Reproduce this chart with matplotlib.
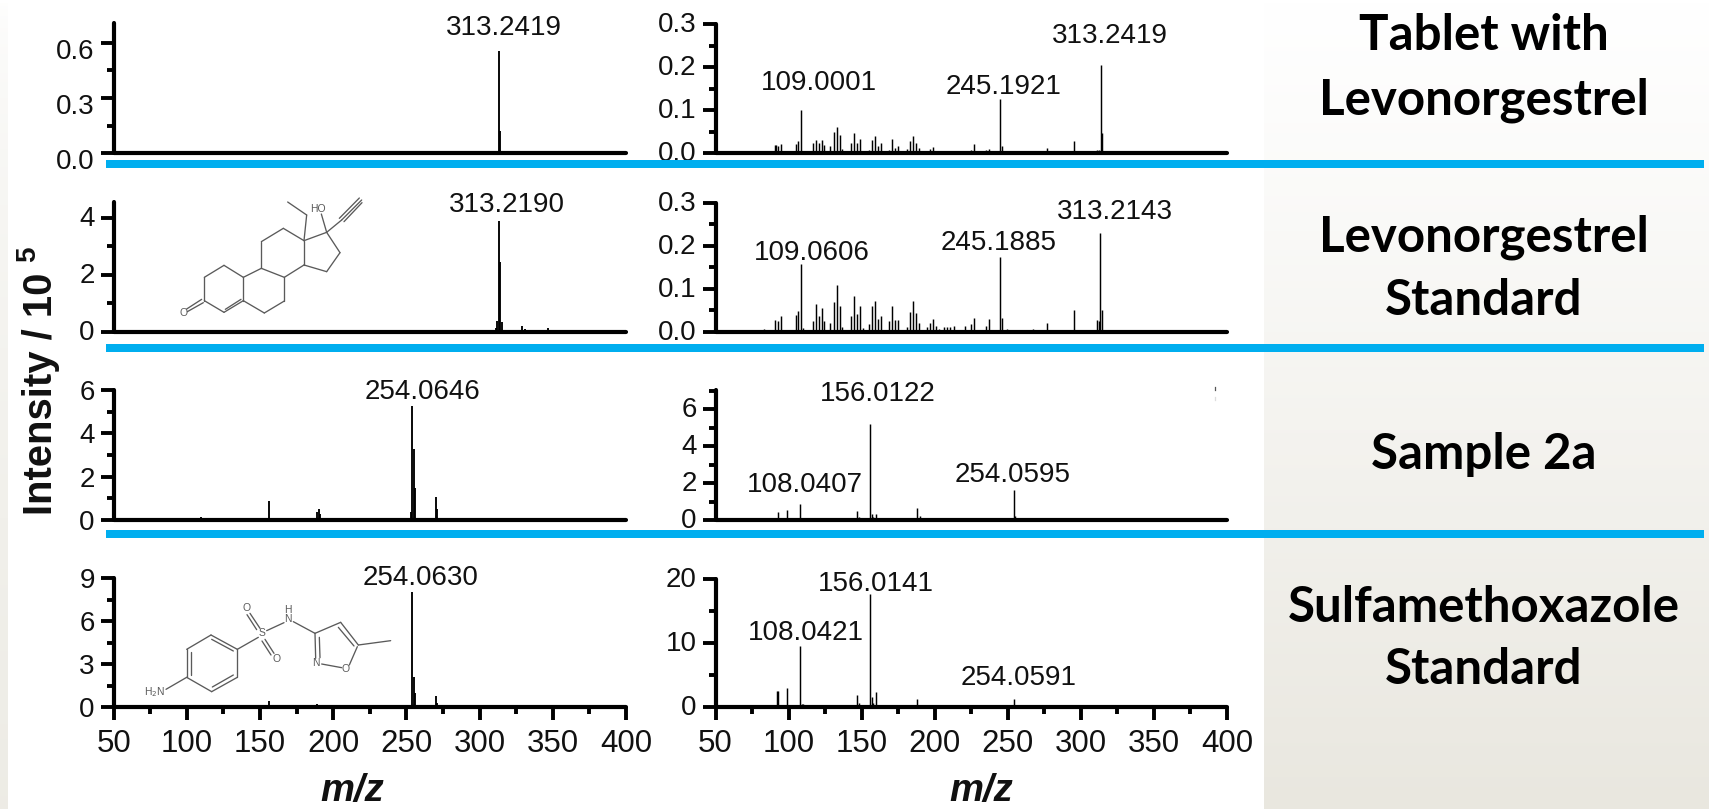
import numpy as np
import matplotlib
matplotlib.use("Agg")
import matplotlib.pyplot as plt
from matplotlib.patches import Rectangle
from matplotlib.ticker import FixedLocator
from matplotlib.transforms import ScaledTranslation

plt.rcParams['font.family'] = ['Liberation Sans', 'DejaVu Sans']

W, H = 1709, 809

# ---------- data: (m/z, intensity) ----------
r1_left_mz = [313, 314, 315]
r1_left_i = [0.555, 0.12, 0.012]
r2_left_mz = [295, 311, 312, 313, 314, 315, 329, 331, 345, 347, 363]
r2_left_i = [0.05, 0.15, 0.4, 3.9, 2.45, 0.35, 0.22, 0.1, 0.06, 0.13, 0.04]
r3_left_mz = [100, 110, 147, 156, 163, 189, 190, 191, 253, 254, 255, 256, 257, 265, 270, 271, 280, 303, 310, 367, 391]
r3_left_i = [0.08, 0.12, 0.05, 0.9, 0.1, 0.35, 0.5, 0.3, 0.35, 5.25, 3.3, 1.5, 0.08, 0.05, 1.05, 0.5, 0.05, 0.05, 0.05, 0.05, 0.05]
r4_left_mz = [156, 189, 190, 254, 255, 256, 270, 271]
r4_left_i = [0.45, 0.2, 0.1, 8.05, 2.1, 1.0, 0.75, 0.25]

r1_right_mz = [90.5, 91.5, 92.7, 94.7, 96.6, 105, 106.7, 108.7, 110, 117, 119, 120.7, 122.6, 124.5, 126.8, 128.5, 131, 133, 135,
               136.6, 141, 143, 144.7, 147, 149, 151, 154.7, 157, 159, 161, 163, 169, 171, 173, 175, 181, 183, 185, 187, 189,
               195, 197, 199, 201, 206.5, 208.4, 210.7, 213, 221, 224.6, 226.8, 235, 237, 242.7, 245, 246, 249.4, 267, 277,
               295, 311, 312.6, 313.7, 314.2, 315]
r1_right_i = [0.02, 0.02, 0.018, 0.022, 0.005, 0.022, 0.028, 0.1, 0.006, 0.025, 0.03, 0.025, 0.032, 0.02, 0.006, 0.018, 0.05, 0.062, 0.042,
              0.01, 0.005, 0.025, 0.047, 0.025, 0.033, 0.005, 0.008, 0.03, 0.04, 0.017, 0.025, 0.008, 0.033, 0.012, 0.018, 0.01, 0.028, 0.04, 0.024, 0.012,
              0.005, 0.01, 0.014, 0.006, 0.004, 0.004, 0.004, 0.005, 0.006, 0.008, 0.022, 0.008, 0.011, 0.004, 0.125, 0.016, 0.004, 0.003, 0.012,
              0.028, 0.008, 0.008, 0.205, 0.048, 0.004]
r2_right_mz = [83, 91, 92.7, 94.7, 105, 106.7, 108.7, 110, 117, 119, 120.7, 122.6, 124.5, 128.5, 131, 133, 135, 136.6, 143, 144.7,
               147, 149, 151, 154.7, 157, 159, 161, 163, 169, 171, 173, 175, 181, 183, 185, 187, 189, 195, 197, 199, 201, 203,
               206.5, 208.4, 210.7, 213, 221, 224.6, 226.8, 235, 237, 242.7, 245, 246, 249.4, 253, 267, 277, 295, 311, 312.6, 313.4, 314.2]
r2_right_i = [0.006, 0.028, 0.025, 0.037, 0.04, 0.048, 0.158, 0.01, 0.025, 0.066, 0.036, 0.056, 0.025, 0.022, 0.07, 0.108, 0.06, 0.012, 0.036, 0.083,
              0.042, 0.06, 0.01, 0.018, 0.06, 0.073, 0.03, 0.036, 0.025, 0.06, 0.027, 0.028, 0.012, 0.046, 0.073, 0.045, 0.022, 0.012, 0.022, 0.03, 0.015, 0.008,
              0.012, 0.012, 0.012, 0.013, 0.015, 0.018, 0.033, 0.015, 0.03, 0.005, 0.175, 0.033, 0.006, 0.005, 0.007, 0.02, 0.05, 0.027, 0.025, 0.23, 0.05]
r3_right_mz = [92, 92.8, 98.9, 107.8, 147, 148, 155.6, 157, 158, 160, 188, 190, 194, 254, 255]
r3_right_i = [0.12, 0.45, 0.55, 0.85, 0.5, 0.15, 5.2, 0.35, 0.15, 0.3, 0.65, 0.2, 0.08, 1.6, 0.2]
r4_right_mz = [92, 93, 99, 108, 109, 110, 147, 148, 155.6, 157, 158, 160, 188, 190, 254]
r4_right_i = [2.5, 2.5, 2.9, 9.6, 0.5, 0.5, 1.8, 0.6, 17.6, 1.5, 0.6, 2.4, 1.2, 0.2, 1.2]

spectra = [[(r1_left_mz, r1_left_i), (r1_right_mz, r1_right_i)],
           [(r2_left_mz, r2_left_i), (r2_right_mz, r2_right_i)],
           [(r3_left_mz, r3_left_i), (r3_right_mz, r3_right_i)],
           [(r4_left_mz, r4_left_i), (r4_right_mz, r4_right_i)]]

# y axis: upper limit, major ticks, tick text, minor ticks
y_top = [[0.705, 0.30], [4.56, 0.30], [6.0, 7.03], [9.0, 20.0]]
y_major = [[[0, 0.3, 0.6], [0, 0.1, 0.2, 0.3]], [[0, 2, 4], [0, 0.1, 0.2, 0.3]],
           [[0, 2, 4, 6], [0, 2, 4, 6]], [[0, 3, 6, 9], [0, 10, 20]]]
y_text = [[['0.0', '0.3', '0.6'], ['0.0', '0.1', '0.2', '0.3']], [['0', '2', '4'], ['0.0', '0.1', '0.2', '0.3']],
          [['0', '2', '4', '6'], ['0', '2', '4', '6']], [['0', '3', '6', '9'], ['0', '10', '20']]]
y_minor = [[[0.15, 0.45], [0.05, 0.15, 0.25]], [[1, 3], [0.05, 0.15, 0.25]],
           [[1, 3, 5], [1, 3, 5, 7]], [[1.5, 4.5, 7.5], [5, 15]]]
x_major = [50, 100, 150, 200, 250, 300, 350, 400]
x_minor = [75, 125, 175, 225, 275, 325, 375]

peak_labels = ['313.2419', '313.2190', '254.0646', '254.0630',
               '109.0001', '245.1921', '313.2419', '109.0606', '245.1885', '313.2143',
               '156.0122', '108.0407', '254.0595', '156.0141', '108.0421', '254.0591']
peak_label_xy = [(504, 28), (507, 205), (422, 392), (421, 578),
                 (819, 83), (1004, 87), (1110, 36), (812, 253), (999, 243), (1115, 212),
                 (878, 394), (805, 485), (1013, 475), (876, 584), (806, 633), (1019, 678)]
titles = ['Tablet with', 'Levonorgestrel', 'Levonorgestrel', 'Standard', 'Sample 2a', 'Sulfamethoxazole', 'Standard']
title_y = [35, 100, 237, 300, 454, 608, 670]

# ---------- layout (pixels) ----------
col_x = [(113.6, 626.0), (715.5, 1227.0)]
row_y = [[(23.3, 153.3), (24.0, 153.3)], [(202.0, 332.0), (202.7, 332.0)],
         [(390.0, 520.0), (390.0, 520.0)], [(578.0, 707.0), (579.0, 707.0)]]
blue_y = [(160, 168), (344, 352), (530, 538)]
INK = '#111111'

fig = plt.figure(figsize=(W / 100, H / 100), dpi=100, facecolor='white')

# background
bg = fig.add_axes([0, 0, 1, 1], zorder=-1)
bg.set_xlim(0, W); bg.set_ylim(H, 0); bg.axis('off')
shade = np.linspace(0, 1, 256)[:, None, None] ** 1.1
top_c = np.array([1.0, 1.0, 1.0])
bot_c = np.array([0.914, 0.906, 0.875])
grad = top_c + shade * (bot_c - top_c)
bg.imshow(grad, extent=(1264, W, H, 0), aspect='auto', zorder=1)
bg.imshow(top_c + (shade ** 0.5) * (np.array([0.93, 0.925, 0.90]) - top_c), extent=(0, 8, H, 0), aspect='auto', zorder=1)
bg.set_xlim(0, W); bg.set_ylim(H, 0)

for r in range(4):
    for c in range(2):
        x0, x1 = col_x[c]
        yt, yb = row_y[r][c]
        ax = fig.add_axes([x0 / W, 1 - yb / H, (x1 - x0) / W, (yb - yt) / H])
        ax.patch.set_alpha(0)
        mz, val = spectra[r][c]
        ax.vlines(mz, 0, val, colors='black', lw=1.35 if c == 0 else 1.05)
        ax.set_xlim(50, 400)
        ax.set_ylim(0, y_top[r][c])
        for s in ('top', 'right'):
            ax.spines[s].set_visible(False)
        for s in ('left', 'bottom'):
            ax.spines[s].set_linewidth(3.0)
            ax.spines[s].set_color('black')
            ax.spines[s].set_capstyle('round')
        ax.set_yticks(y_major[r][c])
        ax.set_yticklabels(y_text[r][c])
        ax.yaxis.set_minor_locator(FixedLocator(y_minor[r][c]))
        ax.tick_params(axis='y', which='major', length=9.5, width=2.8, labelsize=20, pad=4, colors='black', labelcolor=INK)
        ax.tick_params(axis='y', which='minor', length=5, width=2.8)
        if r == 3:
            ax.set_xticks(x_major)
            ax.xaxis.set_minor_locator(FixedLocator(x_minor))
            ax.tick_params(axis='x', which='major', length=9.5, width=2.8, labelsize=22.5, pad=6, labelcolor=INK)
            ax.tick_params(axis='x', which='minor', length=5, width=2.8)
        else:
            ax.tick_params(axis='x', which='both', length=0, labelbottom=False)
        if r == 0 and c == 0:
            off = ScaledTranslation(0, -6 / 100, fig.dpi_scale_trans)
        elif c == 1 or r == 1:
            off = ScaledTranslation(0, 2 / 100, fig.dpi_scale_trans)
        else:
            off = ScaledTranslation(0, 0, fig.dpi_scale_trans)
        for lab in ax.get_yticklabels():
            lab.set_transform(lab.get_transform() + off)

# overlay in pixel coordinates
ov = fig.add_axes([0, 0, 1, 1], zorder=10)
ov.set_xlim(0, W); ov.set_ylim(H, 0); ov.axis('off'); ov.patch.set_alpha(0)

for y0, y1 in blue_y:
    ov.add_patch(Rectangle((106, y0), 1704 - 106, y1 - y0, fc='#00AEEF', ec='none'))

for s, (x, y) in zip(peak_labels, peak_label_xy):
    ov.text(x, y, s, ha='center', va='center', fontsize=20, color=INK)

for s, y in zip(titles, title_y):
    ov.text(1484, y, s, ha='center', va='center', fontsize=35.5, fontweight='bold',
            family=['Lato', 'DejaVu Sans'], color='black')

ov.text(41, 515, 'Intensity / 10', rotation=90, ha='left', va='center', rotation_mode='anchor',
        fontsize=28.8, fontweight='bold', color=INK)
ov.text(28, 254, '5', rotation=90, ha='center', va='center', fontsize=20, fontweight='bold', color=INK)
ov.text(352, 791, 'm/z', ha='center', va='center', fontsize=27.5, fontweight='bold', style='italic', color=INK)
ov.text(981, 791, 'm/z', ha='center', va='center', fontsize=27.5, fontweight='bold', style='italic', color=INK)
ov.plot([1214.5, 1214.5], [387, 390], color='#555555', lw=0.9)
ov.plot([1214.5, 1214.5], [397, 400], color='#dddddd', lw=0.9)

# structures (crop coordinates at 3x)
def draw(bonds, ox, oy):
    for (xa, ya), (xb, yb) in bonds:
        ov.plot([ox + xa / 3, ox + xb / 3], [oy + ya / 3, oy + yb / 3], color='#5a5a5a', lw=0.95, solid_capstyle='round')

A = dict(c3=(133, 332), c2=(133, 262), c1=(192, 226), c10=(250, 262), c5=(250, 332), c4=(192, 367), c6=(313, 369),
         c7=(373, 333), c8=(373, 262), c9=(304, 235), c11=(304, 155), c12=(370, 115), c13=(432, 152), c14=(432, 225),
         c15=(500, 245), c16=(540, 188), c17=(500, 127), e1=(440, 75), e2=(383, 36), oh=(484, 72), y1=(545, 90), y2=(605, 30))
names = ['c3-c2', 'c2-c1', 'c1-c10', 'c10-c5', 'c5-c4', 'c4-c3', 'c5-c6', 'c6-c7', 'c7-c8', 'c8-c9', 'c9-c10', 'c9-c11',
         'c11-c12', 'c12-c13', 'c13-c14', 'c14-c8', 'c14-c15', 'c15-c16', 'c16-c17', 'c17-c13', 'c13-e1', 'e1-e2', 'c17-oh', 'c17-y1']
levo = [(A[n.split('-')[0]], A[n.split('-')[1]]) for n in names]
levo += [((545, 90), (605, 30)), ((538, 85), (598, 24)), ((552, 95), (606, 38)),
         ((130, 338), (82, 365)), ((125, 328), (80, 357)), ((196, 358), (243, 328))]
draw(levo, 160, 190)
ov.text(160 + 70 / 3, 190 + 368 / 3, 'O', fontsize=7.5, color='#5a5a5a', ha='center', va='center')
ov.text(160 + 475 / 3, 190 + 57 / 3, 'HO', fontsize=7.5, color='#5a5a5a', ha='center', va='center')

sulfa = [((108, 298), (170, 262)), ((170, 262), (170, 178)), ((170, 178), (243, 135)), ((243, 135), (322, 178)),
         ((322, 178), (322, 262)), ((322, 262), (245, 305)), ((245, 305), (170, 262)),
         ((182, 255), (182, 185)), ((245, 148), (310, 183)), ((310, 255), (247, 291)),
         ((322, 178), (385, 142)), ((390, 115), (360, 70)), ((380, 119), (351, 74)),
         ((405, 148), (432, 190)), ((396, 153), (423, 195)), ((410, 122), (462, 98)), ((490, 95), (555, 130)),
         ((555, 130), (632, 97)), ((632, 97), (685, 165)), ((625, 112), (672, 168)), ((682, 170), (658, 225)),
         ((635, 233), (575, 222)), ((557, 205), (555, 130)), ((570, 203), (568, 142)), ((685, 165), (782, 152))]
draw(sulfa, 130, 590)
for s, x, y in [('H$_2$N', 73, 307), ('S', 397, 130), ('O', 350, 55), ('O', 440, 207), ('N', 473, 87), ('H', 473, 60), ('N', 558, 220), ('O', 647, 237)]:
    ov.text(130 + x / 3, 590 + y / 3, s, fontsize=7.5, color='#5a5a5a', ha='center', va='center')

fig.savefig('out.png', dpi=100, facecolor='white')
